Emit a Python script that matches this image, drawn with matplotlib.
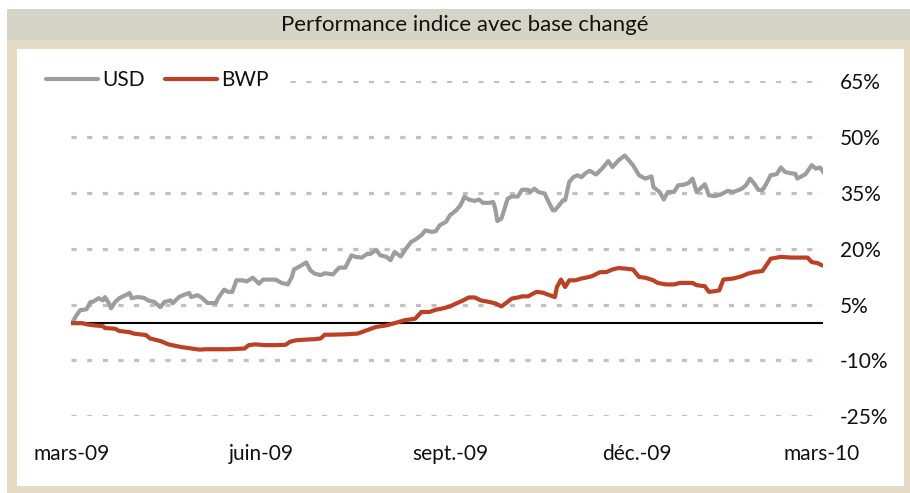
import numpy as np
import matplotlib
matplotlib.use("Agg")
import matplotlib.pyplot as plt
from matplotlib.patches import Rectangle

plt.rcParams['font.family'] = ['Lato', 'DejaVu Sans']

title = "Performance indice avec base changé"
start_date = "2009-03-01"
series_names = ["USD", "BWP"]

usd_days = [0, 2, 4, 7, 9, 10, 13, 15, 16, 18, 19, 21, 23, 26, 28, 29, 32, 35, 37, 40,
            43, 45, 48, 49, 52, 54, 57, 58, 61, 63, 66, 70, 71, 74, 76, 78, 80, 83, 85, 88,
            91, 93, 96, 99, 102, 105, 107, 108, 111, 114, 116, 118, 121, 123, 127, 130, 133, 136, 138, 141,
            144, 145, 148, 150, 153, 155, 157, 160, 162, 165, 167, 170, 172, 175, 177, 179, 182, 184, 187, 189,
            191, 193, 196, 198, 200, 203, 205, 206, 207, 209, 210, 212, 214, 217, 219, 222, 223, 225, 227, 230,
            232, 234, 235, 237, 239, 240, 242, 244, 246, 248, 250, 252, 255, 258, 261, 263, 266, 269, 273, 276,
            279, 282, 283, 286, 288, 290, 293, 295, 298, 300, 302, 304, 308, 310, 313, 316, 319, 322, 326, 328,
            330, 332, 334, 336, 338, 340, 343, 345, 347, 349, 352, 353, 356, 357, 360, 362, 364, 366]
usd_vals = [0.0, 2.0, 3.5, 3.7, 5.7, 5.7, 6.7, 6.1, 7.0, 5.3, 4.0, 5.7, 6.7, 7.5, 8.1, 6.7, 7.0, 6.8, 6.1, 5.7,
            4.3, 5.7, 6.1, 5.3, 7.0, 7.5, 8.1, 7.0, 7.5, 6.9, 5.4, 5.4, 6.6, 9.0, 8.4, 8.4, 11.5, 11.5, 11.2, 12.2,
            10.6, 11.7, 11.7, 11.7, 10.8, 10.4, 12.4, 14.4, 15.3, 16.3, 14.2, 13.3, 12.9, 13.4, 13.1, 14.9, 14.9, 18.2, 17.8, 17.6,
            18.7, 18.5, 19.7, 18.2, 17.8, 16.9, 19.1, 17.9, 19.6, 21.8, 22.4, 23.6, 24.9, 24.5, 24.7, 26.3, 27.2, 29.0, 30.3, 31.6,
            33.9, 33.2, 32.8, 33.2, 32.3, 32.3, 32.5, 30.7, 27.4, 28.1, 29.8, 33.4, 34.0, 34.0, 35.8, 35.8, 35.2, 36.1, 35.2, 34.8,
            32.5, 30.3, 30.3, 31.6, 33.0, 33.0, 37.9, 39.2, 39.7, 39.2, 40.3, 40.9, 39.9, 41.5, 43.5, 41.9, 43.7, 45.0, 42.4, 39.7,
            38.8, 39.4, 36.5, 35.2, 33.2, 35.2, 35.2, 37.0, 37.2, 37.6, 38.8, 35.2, 37.3, 34.3, 34.1, 34.6, 35.5, 35.2, 36.1, 37.0,
            38.8, 37.5, 35.8, 35.7, 37.5, 39.7, 40.0, 41.8, 40.6, 40.3, 40.1, 38.8, 39.7, 40.0, 42.4, 41.5, 41.8, 40.3]

bwp_days = [0, 5, 7, 11, 15, 16, 21, 23, 28, 30, 36, 38, 43, 47, 53, 58, 62, 65, 70, 76,
            84, 86, 89, 94, 99, 104, 106, 109, 114, 118, 121, 123, 126, 133, 139, 143, 148, 153, 157, 162,
            167, 170, 174, 177, 180, 184, 187, 190, 193, 196, 199, 203, 206, 209, 211, 214, 217, 219, 222, 226,
            229, 231, 235, 236, 238, 240, 242, 245, 248, 250, 253, 257, 260, 263, 266, 270, 273, 276, 279, 283,
            285, 289, 293, 296, 302, 304, 308, 310, 313, 315, 317, 322, 326, 329, 332, 336, 339, 340, 345, 350,
            354, 358, 360, 363, 365]
bwp_vals = [0.0, 0.0, -0.3, -0.6, -0.8, -1.3, -1.5, -2.1, -2.4, -2.8, -3.2, -4.1, -4.8, -5.7, -6.4, -6.8, -7.1, -7.0, -7.0, -7.0,
            -6.8, -5.9, -5.7, -5.9, -5.9, -5.8, -5.0, -4.6, -4.4, -4.3, -4.1, -3.1, -3.1, -3.0, -2.8, -2.0, -1.0, -0.6, 0.0, 0.8,
            1.2, 3.0, 3.0, 3.6, 3.9, 4.5, 5.3, 6.0, 6.9, 6.9, 6.1, 5.7, 5.3, 4.5, 5.3, 6.6, 6.9, 7.2, 7.2, 8.4,
            8.2, 7.8, 7.0, 9.7, 11.7, 9.7, 11.5, 11.5, 12.0, 12.2, 12.6, 13.7, 13.7, 14.4, 14.8, 14.6, 14.4, 12.4, 12.2, 11.5,
            10.8, 10.4, 10.4, 10.8, 10.8, 10.2, 9.9, 8.4, 8.6, 8.8, 11.7, 12.0, 12.6, 13.3, 13.7, 14.0, 16.4, 17.3, 17.8, 17.6,
            17.6, 17.6, 16.4, 16.1, 15.5]

y_ticks = [-25, -10, 5, 20, 35, 50, 65]
y_tick_labels = ["-25%", "-10%", "5%", "20%", "35%", "50%", "65%"]
x_tick_dates = ["2009-03-01", "2009-06-01", "2009-09-01", "2009-12-01", "2010-03-01"]
x_tick_labels = ["mars-09", "juin-09", "sept.-09", "déc.-09", "mars-10"]

W, H = 910, 493
fig = plt.figure(figsize=(W / 100, H / 100), dpi=100)
fig.patch.set_facecolor("white")

def fr(x0, y0, x1, y1):
    return (x0 / W, 1 - y1 / H, (x1 - x0) / W, (y1 - y0) / H)

beige = "#e5dac3"
band = "#d6d4c7"
for (rx0, ry0, rx1, ry1), col in [((7, 9, 910, 493), beige), ((7, 9, 910, 40), band), ((17, 49, 904, 486), "white")]:
    r = fr(rx0, ry0, rx1, ry1)
    fig.patches.append(Rectangle((r[0], r[1]), r[2], r[3], transform=fig.transFigure,
                                 facecolor=col, edgecolor="none", zorder=-5))

fig.text(465 / W, 1 - 25 / H, title, ha="center", va="center", fontsize=16, color="#111111")

ax = fig.add_axes(fr(71, 81, 823, 416.3))
ax.set_facecolor("none")
ax.set_zorder(2)

base = np.datetime64(start_date)
usd_x = base + np.array(usd_days).astype("timedelta64[D]")
bwp_x = base + np.array(bwp_days).astype("timedelta64[D]")

grey = "#9d9d9d"
red = "#be4024"
ax.plot(usd_x, usd_vals, color=grey, lw=3.0, label=series_names[0], zorder=4,
        solid_joinstyle="round", solid_capstyle="round")
ax.plot(bwp_x, bwp_vals, color=red, lw=3.0, label=series_names[1], zorder=4,
        solid_joinstyle="round", solid_capstyle="round")
ax.axhline(0, color="black", lw=1.5, zorder=3)

for v in y_ticks:
    ax.axhline(v, color="#c0c0c0", lw=2.3, linestyle=(0, (1.6, 3.3)), zorder=1)

ax.set_ylim(-25, 65)
x0 = base - np.timedelta64(12, "h")
x1 = np.datetime64("2010-03-01") + np.timedelta64(12, "h")
ax.set_xlim(x0, x1)

ax.yaxis.tick_right()
ax.set_yticks(y_ticks)
ax.set_yticklabels(y_tick_labels)
for lab in ax.get_yticklabels():
    lab.set_horizontalalignment("left")
ax.tick_params(axis="y", length=0, pad=12, labelsize=15, labelcolor="#111111")

ax.set_xticks([np.datetime64(d) for d in x_tick_dates])
ax.set_xticklabels(x_tick_labels)
ax.tick_params(axis="x", length=0, pad=20, labelsize=15, labelcolor="#111111")

for s in ax.spines.values():
    s.set_visible(False)

leg = fig.legend(loc="center left", bbox_to_anchor=(29 / W, 1 - 80 / H), ncol=2,
                 fontsize=15, frameon=True, handlelength=2.5, handletextpad=0.2,
                 columnspacing=1.0, borderpad=0.8, borderaxespad=0)
leg.set_zorder(10)
leg.get_frame().set_facecolor("white")
leg.get_frame().set_edgecolor("none")
leg.get_frame().set_alpha(1)
for t in leg.get_texts():
    t.set_color("#111111")
for h in leg.legend_handles:
    h.set_linewidth(3.0)

fig.savefig("out.png", dpi=100)
